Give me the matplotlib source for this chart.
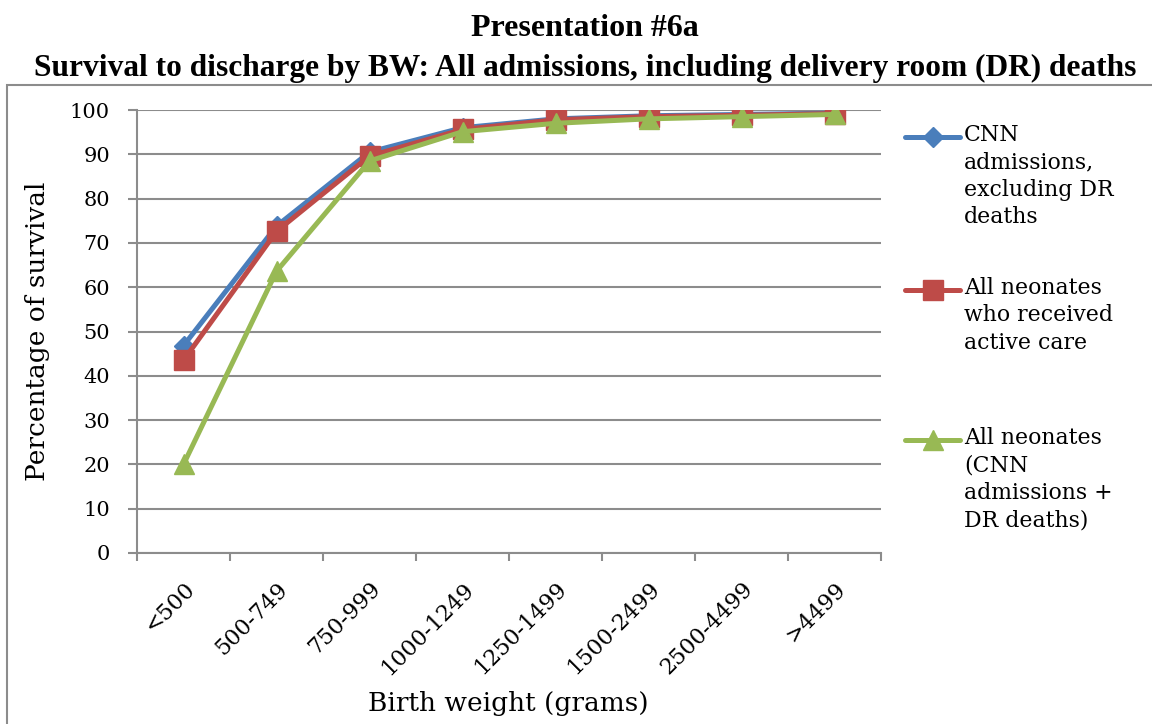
import numpy as np
import matplotlib.pyplot as plt
from matplotlib.patches import Rectangle
from matplotlib.lines import Line2D

categories = ["<500", "500-749", "750-999", "1000-1249", "1250-1499",
              "1500-2499", "2500-4499", ">4499"]
cnn_excl_dr = [46.8, 73.8, 90.5, 96.0, 98.0, 98.7, 99.0, 99.3]
active_care = [43.5, 72.6, 89.6, 95.6, 97.8, 98.5, 98.8, 99.2]
all_neonates = [20.0, 63.6, 88.5, 95.1, 97.0, 98.0, 98.5, 99.0]

labels = ["CNN\nadmissions,\nexcluding DR\ndeaths",
          "All neonates\nwho received\nactive care",
          "All neonates\n(CNN\nadmissions +\nDR deaths)"]

W, H = 1152, 724
plt.rcParams["font.family"] = ["Liberation Serif", "DejaVu Serif"]
BODY = ["DejaVu Serif"]

fig = plt.figure(figsize=(W / 100, H / 100), dpi=100)
ax = fig.add_axes([137 / W, 1 - 553 / H, 744 / W, 443 / H])

# outer chart frame
fig.patches.append(Rectangle((7 / W, -0.01), 1.2, 1 - 85 / H + 0.01,
                             transform=fig.transFigure, fill=False,
                             edgecolor="#8c8c8c", lw=1.5))

series = [
    (cnn_excl_dr, "#4a7ebb", "D", 10),
    (active_care, "#be4b48", "s", 14),
    (all_neonates, "#98b954", "^", 14),
]

x = np.arange(len(categories))
for i, (vals, col, mk, ms) in enumerate(series):
    ax.plot(x, vals, color=col, lw=3.6, marker=mk, ms=ms, zorder=3 + i)

ax.set_xlim(-0.5, len(categories) - 0.5)
ax.set_ylim(0, 100)
ax.set_yticks(range(0, 101, 10))
ax.yaxis.grid(True, color="#8c8c8c", lw=1.5)
ax.set_axisbelow(True)

ax.set_xticks(x)
ax.set_xticklabels(categories, rotation=45, ha="right", rotation_mode="anchor",
                   fontsize=16, family=BODY)
ax.set_xticks(np.arange(-0.5, len(categories)), minor=True)
ax.tick_params(axis="x", which="major", length=0, pad=18)
ax.tick_params(axis="x", which="minor", length=6, width=1.5, color="#8c8c8c")
ax.tick_params(axis="y", length=6.5, width=1.5, color="#8c8c8c", pad=13)
for t in ax.get_yticklabels():
    t.set_family(BODY)
    t.set_fontsize(15)

for side in ["top", "right"]:
    ax.spines[side].set_visible(False)
for side in ["left", "bottom"]:
    ax.spines[side].set_color("#8c8c8c")
    ax.spines[side].set_linewidth(1.5)

ax.set_ylabel("Percentage of survival", fontsize=19, family=BODY, labelpad=14)
# x label sits right at the bottom edge, as in the reference
fig.text(508 / W, 1 - 704 / H, "Birth weight (grams)", ha="center", va="center",
         fontsize=19, family=BODY)

fig.text(585 / W, 1 - 28 / H, "Presentation #6a", ha="center", va="center",
         fontsize=23, fontweight="bold")
fig.text(585 / W, 1 - 68 / H,
         "Survival to discharge by BW: All admissions, including delivery room (DR) deaths",
         ha="center", va="center", fontsize=22.6, fontweight="bold")

# legend, handle level with the first line of each entry
legend_y = [137, 290, 440]
for (vals, col, mk, ms), lab, yy in zip(series, labels, legend_y):
    yf = 1 - yy / H
    fig.add_artist(Line2D([905 / W, 960 / W], [yf, yf], transform=fig.transFigure,
                          color=col, lw=3.6, solid_capstyle="round"))
    fig.add_artist(Line2D([932.5 / W], [yf], transform=fig.transFigure,
                          color=col, marker=mk, ms=ms, lw=0))
    fig.text(964 / W, yf + 13 / H, lab, ha="left", va="top", family=BODY,
             fontsize=15.8, linespacing=1.32)

fig.savefig("out.png", dpi=100)
